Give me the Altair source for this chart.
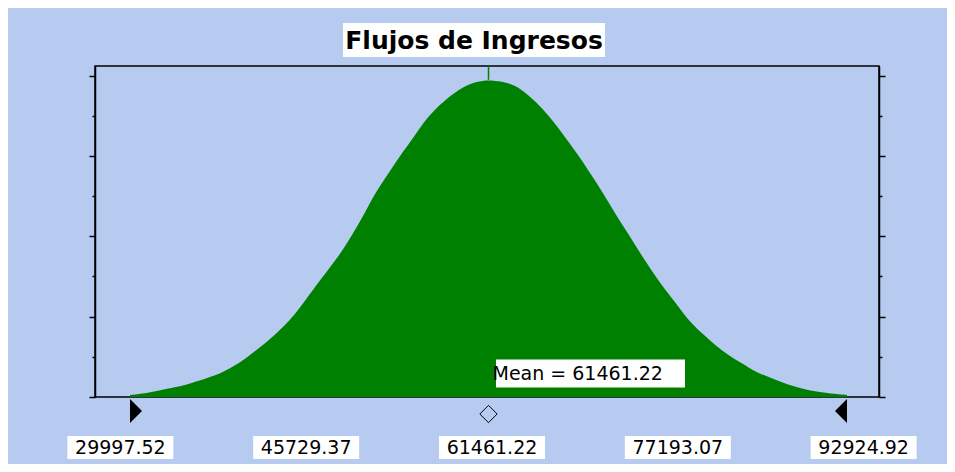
import altair as alt
import pandas as pd

# ---------------- data ----------------
title_text = "Flujos de Ingresos"

# forecast distribution (value, probability)
curve_x = [29998, 31463, 32780, 33947, 34825, 36141, 37282, 37897, 38774, 39652,
           40530, 41671, 42548, 43777, 44655, 46059, 46936, 47814, 48692, 49569,
           50447, 51325, 52202, 53080, 53958, 54835, 55713, 56591, 57819, 59224,
           60452, 61418, 62646, 63787, 64928, 66157, 67298, 68439, 69316, 70194,
           71072, 71949, 72827, 73705, 74582, 75460, 76338, 77215, 77830, 78971,
           80199, 81340, 82481, 83710, 84851, 86343, 87747, 89239, 90731, 92925]
curve_p = [0.00025, 0.00046, 0.00087, 0.00121, 0.00149, 0.00203, 0.00262, 0.00295, 0.00357, 0.00427,
           0.00523, 0.00648, 0.00751, 0.00918, 0.01062, 0.01333, 0.01498, 0.01665, 0.01831, 0.02039,
           0.02245, 0.02494, 0.02684, 0.02868, 0.03055, 0.03222, 0.03408, 0.03553, 0.03717, 0.03864,
           0.03927, 0.03948, 0.03927, 0.03885, 0.03761, 0.03599, 0.03406, 0.03182, 0.03014, 0.02827,
           0.02640, 0.02432, 0.02225, 0.02039, 0.01831, 0.01644, 0.01457, 0.01291, 0.01183, 0.00959,
           0.00793, 0.00648, 0.00523, 0.00420, 0.00315, 0.00233, 0.00149, 0.00096, 0.00054, 0.00025]

label_values = [29997.52, 45729.37, 61461.22, 77193.07, 92924.92]
label_texts = ["29997.52", "45729.37", "61461.22", "77193.07", "92924.92"]
x_tick_values = [37863.45, 45729.37, 53595.30, 61461.22, 69327.15, 77193.07, 85059.00]
y_tick_values = [0, 0.005, 0.01, 0.015, 0.02, 0.025, 0.03, 0.035, 0.04]

mean_value = 61461.22
mean_text = "Mean = 61461.22"
peak_value = 0.03948
range_low = 29997.52
range_high = 92924.92

x_domain = [26926, 95733]
y_domain = [0, 0.0412]

# ---------------- styling ----------------
BG = "#B7CBF0"
GREEN = "#008000"
W, H = 784, 331

xs = alt.Scale(domain=x_domain, nice=False, zero=False)
ys = alt.Scale(domain=y_domain, nice=False, zero=False)

curve_df = pd.DataFrame({"value": curve_x, "prob": curve_p})
labels_df = pd.DataFrame({"value": label_values, "text": label_texts})
mean_df = pd.DataFrame({"mean": [mean_value], "peak": [peak_value],
                        "top": [y_domain[1]], "text": [mean_text]})
title_df = pd.DataFrame({"t": [title_text]})
low_df = pd.DataFrame({"v": [range_low]})
high_df = pd.DataFrame({"v": [range_high]})

y_tick_size = {"condition": {"test": "round(datum.value*1000) % 10 == 0", "value": 6}, "value": 3}

area = alt.Chart(curve_df).mark_area(color=GREEN, interpolate="basis").encode(
    x=alt.X("value:Q", scale=xs,
            axis=alt.Axis(values=x_tick_values, labels=False, title=None, grid=False,
                          tickSize=3, tickColor="black", tickWidth=1,
                          domainColor="black", domainWidth=1.5, zindex=1)),
    y=alt.Y("prob:Q", scale=ys,
            axis=alt.Axis(values=y_tick_values, labels=False, title=None, grid=False,
                          orient="left", tickSize=y_tick_size,
                          tickColor="black", tickWidth=1.5,
                          domainColor="black", domainWidth=1.5, zindex=1)),
)

mean_rule = alt.Chart(mean_df).mark_rule(color=GREEN, strokeWidth=1.5).encode(
    x=alt.X("mean:Q", scale=xs, axis=None),
    y=alt.Y("top:Q", scale=ys,
            axis=alt.Axis(values=y_tick_values, labels=False, title=None, grid=False,
                          orient="right", tickSize=y_tick_size,
                          tickColor="black", tickWidth=1.5,
                          domainColor="black", domainWidth=1.5, zindex=1)),
    y2="peak:Q",
)

# tick labels in white boxes below the axis
label_calc = f"{mean_value} + 307 + (datum.value - {mean_value}) * 1.0366"
label_x = alt.X("lx:Q", scale=xs, axis=None)
label_boxes = alt.Chart(labels_df).transform_calculate(lx=label_calc).mark_point(
    shape="M-1,-0.217L1,-0.217L1,0.217L-1,0.217Z", size=106 * 106,
    filled=True, color="white", opacity=1, strokeWidth=0).encode(
    x=label_x, y=alt.value(381.5))
label_text = alt.Chart(labels_df).transform_calculate(lx=label_calc).mark_text(
    font="DejaVu Sans", fontSize=19, color="black", baseline="middle",
    align="center").encode(x=label_x, y=alt.value(382), text="text:N")

# mean annotation
mean_box = alt.Chart(mean_df).mark_point(
    shape="M-1,-0.148L1,-0.148L1,0.148L-1,0.148Z", size=189 * 189,
    filled=True, color="white", opacity=1, strokeWidth=0, xOffset=102).encode(
    x=alt.X("mean:Q", scale=xs, axis=None), y=alt.value(307.5))
mean_label = alt.Chart(mean_df).mark_text(
    font="DejaVu Sans", fontSize=19, color="black", baseline="middle", align="left",
    dx=4).encode(x=alt.X("mean:Q", scale=xs, axis=None), y=alt.value(308), text="text:N")
mean_diamond = alt.Chart(mean_df).mark_point(
    shape="diamond", filled=False, stroke="black", strokeWidth=1, size=300, opacity=1).encode(
    x=alt.X("mean:Q", scale=xs, axis=None), y=alt.value(348))

# certainty range triangles
tri_low = alt.Chart(low_df).mark_point(
    shape="M0,-1L1,0L0,1Z", filled=True, color="black", opacity=1, size=576).encode(
    x=alt.X("v:Q", scale=xs, axis=None), y=alt.value(345))
tri_high = alt.Chart(high_df).mark_point(
    shape="M0,-1L-1,0L0,1Z", filled=True, color="black", opacity=1, size=576).encode(
    x=alt.X("v:Q", scale=xs, axis=None), y=alt.value(345))

# title in a white box
title_box = alt.Chart(title_df).mark_point(
    shape="M-1,-0.13L1,-0.13L1,0.13L-1,0.13Z", size=262 * 262,
    filled=True, color="white", opacity=1, strokeWidth=0).encode(
    x=alt.value(379), y=alt.value(-26))
title_mark = alt.Chart(title_df).mark_text(
    font="DejaVu Sans", fontSize=25, fontWeight="bold", color="black",
    baseline="middle", align="center").encode(
    x=alt.value(379), y=alt.value(-25), text="t:N")

chart = alt.layer(
    area, mean_rule, label_boxes, label_text, mean_box, mean_label, mean_diamond,
    tri_low, tri_high, title_box, title_mark
).resolve_axis(y="independent").properties(
    width=W, height=H,
    autosize=alt.AutoSizeParams(type="none"),
    padding={"left": 87, "top": 58, "right": 68, "bottom": 67},
    background=BG,
).configure_view(stroke="black", strokeWidth=1.5)

chart.save("out.html", embed_options={"renderer": "svg", "actions": False})
